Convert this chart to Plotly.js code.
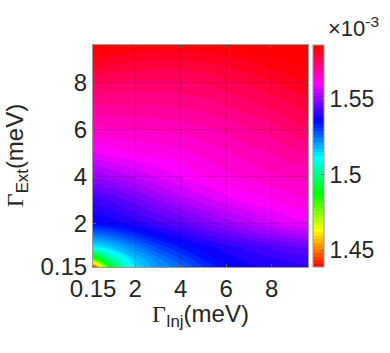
<!DOCTYPE html>
<html>
<head>
<meta charset="utf-8">
<script src="https://cdn.plot.ly/plotly-3.0.1.min.js"></script>
<style>
  html, body { margin: 0; padding: 0; background: #fff; }
  #graph { width: 390px; height: 353px; }
</style>
</head>
<body>
<div id="graph"></div>
<script>
// Gamma_Inj (x) and Gamma_Ext (y) sample points, meV
var gammaInj = [0.15, 0.5, 1, 2, 3, 4, 5, 6, 7, 8, 9, 9.6];
var gammaExt = [0.15, 0.5, 1, 2, 3, 4, 5, 6, 7, 8, 9, 9.6];

// values (x 1e-3), one row per gammaExt value
var zRows = [
  [1.4388, 1.4624, 1.4913, 1.5141, 1.5215, 1.5256, 1.5310, 1.5351, 1.5372, 1.5385, 1.5393, 1.5397],
  [1.4810, 1.4913, 1.5037, 1.5170, 1.5232, 1.5285, 1.5335, 1.5368, 1.5385, 1.5397, 1.5409, 1.5413],
  [1.5128, 1.5141, 1.5170, 1.5232, 1.5294, 1.5335, 1.5368, 1.5389, 1.5409, 1.5430, 1.5447, 1.5455],
  [1.5351, 1.5356, 1.5364, 1.5389, 1.5418, 1.5442, 1.5471, 1.5500, 1.5525, 1.5554, 1.5575, 1.5583],
  [1.5409, 1.5418, 1.5430, 1.5459, 1.5492, 1.5525, 1.5550, 1.5575, 1.5595, 1.5608, 1.5624, 1.5633],
  [1.5500, 1.5504, 1.5517, 1.5542, 1.5566, 1.5587, 1.5608, 1.5624, 1.5637, 1.5649, 1.5657, 1.5661],
  [1.5583, 1.5587, 1.5595, 1.5608, 1.5616, 1.5624, 1.5637, 1.5649, 1.5666, 1.5678, 1.5695, 1.5699],
  [1.5645, 1.5645, 1.5649, 1.5653, 1.5657, 1.5661, 1.5670, 1.5682, 1.5699, 1.5711, 1.5736, 1.5744],
  [1.5699, 1.5699, 1.5699, 1.5699, 1.5699, 1.5703, 1.5711, 1.5723, 1.5736, 1.5752, 1.5769, 1.5781],
  [1.5752, 1.5748, 1.5744, 1.5740, 1.5740, 1.5740, 1.5748, 1.5761, 1.5773, 1.5790, 1.5806, 1.5819],
  [1.5823, 1.5814, 1.5806, 1.5798, 1.5794, 1.5794, 1.5798, 1.5806, 1.5819, 1.5835, 1.5847, 1.5852],
  [1.5860, 1.5852, 1.5843, 1.5835, 1.5831, 1.5831, 1.5835, 1.5843, 1.5852, 1.5860, 1.5864, 1.5864]
];

var xTicks = [0.15, 2, 4, 6, 8];
var yTicks = [0.15, 2, 4, 6, 8];
var cbTicks = [1.45, 1.5, 1.55];
var cbTickText = ["1.45", "1.5", "1.55"];

// colour limits
var zLow = 1.4389, zHigh = 1.5855;

// matlab hsv colormap
var hsv = [
  [0, "#ff0000"], [1/6, "#ffff00"], [1/3, "#00ff00"], [0.5, "#00ffff"],
  [2/3, "#0000ff"], [5/6, "#ff00ff"], [1, "#ff0000"]
];

var textColor = "#262626";
var fontFam = "Liberation Sans, Arial, sans-serif";
var tickFont = {family: fontFam, size: 24, color: textColor};

var trace = {
  type: "contour",
  x: gammaInj,
  y: gammaExt,
  z: zRows,
  colorscale: hsv,
  zauto: false,
  zmin: zLow,
  zmax: zHigh,
  autocontour: false,
  contours: {coloring: "fill", showlines: false, start: zLow, end: zHigh, size: 0.0023},
  line: {width: 0},
  colorbar: {
    x: 1.0226, xanchor: "left", xpad: 0,
    y: 0.5, yanchor: "middle", ypad: 0, len: 1,
    thickness: 11,
    outlinecolor: "#999999", outlinewidth: 1,
    tickmode: "array", tickvals: cbTicks, ticktext: cbTickText,
    ticks: "inside", ticklen: 3, tickcolor: "#666666",
    tickfont: {family: fontFam, size: 23, color: textColor}
  },
  hoverinfo: "skip"
};

// faint grid on top of the fill, like matlab's grid
var gridShapes = [];
xTicks.slice(1).forEach(function (v) {
  gridShapes.push({type: "line", xref: "x", yref: "paper", x0: v, x1: v, y0: 0, y1: 1,
    layer: "above", line: {color: "rgba(0,0,0,0.12)", width: 1}});
});
yTicks.slice(1).forEach(function (v) {
  gridShapes.push({type: "line", xref: "paper", yref: "y", x0: 0, x1: 1, y0: v, y1: v,
    layer: "above", line: {color: "rgba(0,0,0,0.12)", width: 1}});
});

var gammaSpan = '<span style="font-family:Liberation Serif, Times New Roman, serif">Γ</span>';

var layout = {
  width: 390,
  height: 353,
  margin: {l: 93, r: 76, t: 45, b: 86},
  paper_bgcolor: "#ffffff",
  plot_bgcolor: "#ffffff",
  showlegend: false,
  xaxis: {
    range: [0.15, 9.6],
    tickmode: "array", tickvals: xTicks, ticktext: ["0.15", "2", "4", "6", "8"],
    ticks: "inside", ticklen: 3, tickcolor: "#666666",
    showgrid: false, zeroline: false,
    showline: true, linecolor: "#999999", linewidth: 1, mirror: "ticks",
    tickfont: tickFont, layer: "above traces"
  },
  yaxis: {
    range: [0.15, 9.6],
    tickmode: "array", tickvals: yTicks, ticktext: ["0.15", "2", "4", "6", "8"],
    ticks: "inside", ticklen: 3, tickcolor: "#666666",
    showgrid: false, zeroline: false,
    showline: true, linecolor: "#999999", linewidth: 1, mirror: "ticks",
    tickfont: tickFont, layer: "above traces"
  },
  shapes: gridShapes,
  annotations: [
    {
      text: gammaSpan + "<sub>Inj</sub>(meV)",
      xref: "paper", yref: "paper", x: 0.5, y: -0.22,
      xanchor: "center", yanchor: "middle", showarrow: false,
      font: {family: fontFam, size: 24, color: textColor}
    },
    {
      text: gammaSpan + "<sub>Ext</sub>(meV)",
      xref: "paper", yref: "paper", x: -0.357, y: 0.5,
      xanchor: "center", yanchor: "middle", textangle: -90, showarrow: false,
      font: {family: fontFam, size: 24, color: textColor}
    },
    {
      text: "×10<sup>-3</sup>",
      xref: "paper", yref: "paper", x: 1.0814, y: 1.009,
      xanchor: "left", yanchor: "bottom", showarrow: false,
      font: {family: fontFam, size: 22, color: textColor}
    }
  ]
};

Plotly.newPlot("graph", [trace], layout, {displayModeBar: false, staticPlot: true});
</script>
</body>
</html>
